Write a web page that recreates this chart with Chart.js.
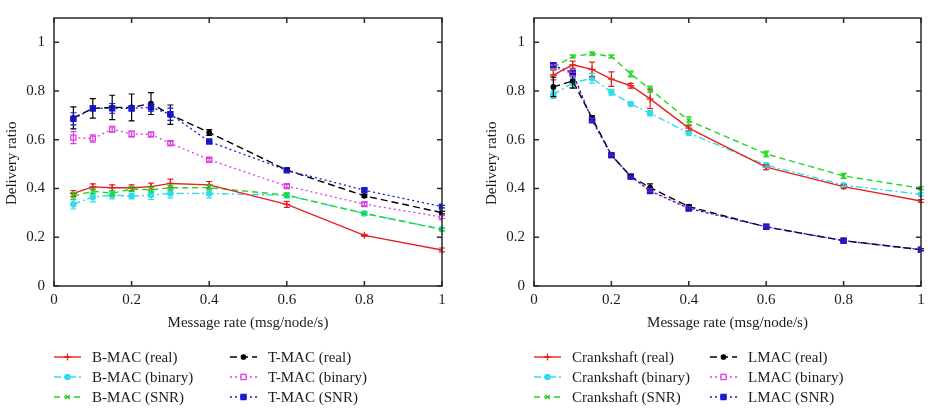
<!DOCTYPE html>
<html>
<head>
<meta charset="utf-8">
<script src="https://cdn.jsdelivr.net/npm/chart.js@4.4.0/dist/chart.umd.min.js"></script>
<style>
  html, body { margin: 0; padding: 0; background: #fff; }
  #wrap { position: relative; width: 937px; height: 408px; overflow: hidden; }
  canvas { position: absolute; top: 0; }
  #left { left: 0; }
  #right { left: 470px; }
</style>
</head>
<body>
<div id="wrap">
  <canvas id="left" width="470" height="408"></canvas>
  <canvas id="right" width="467" height="408"></canvas>
</div>
<script>
// --- data ---
const rates = [0.05, 0.1, 0.15, 0.2, 0.25, 0.3, 0.4, 0.6, 0.8, 1];
const xTicks = [0, 0.2, 0.4, 0.6, 0.8, 1];
const yTicks = [0, 0.2, 0.4, 0.6, 0.8, 1];

// left panel
const leftNames = ['B-MAC (real)', 'B-MAC (binary)', 'B-MAC (SNR)', 'T-MAC (real)', 'T-MAC (binary)', 'T-MAC (SNR)'];
const bmacReal   = [0.380, 0.407, 0.403, 0.403, 0.408, 0.421, 0.415, 0.335, 0.208, 0.148];
const bmacBinary = [0.336, 0.365, 0.373, 0.369, 0.373, 0.380, 0.380, 0.372, 0.298, 0.233];
const bmacSnr    = [0.369, 0.389, 0.381, 0.398, 0.395, 0.403, 0.404, 0.373, 0.298, 0.232];
const tmacReal   = [0.690, 0.729, 0.733, 0.733, 0.749, 0.703, 0.630, 0.476, 0.370, 0.301];
const tmacBinary = [0.609, 0.605, 0.643, 0.624, 0.622, 0.586, 0.518, 0.410, 0.336, 0.283];
const tmacSnr    = [0.686, 0.729, 0.729, 0.729, 0.733, 0.705, 0.593, 0.475, 0.393, 0.326];
// half-width of the error bars
const bmacRealErr   = [0.012, 0.012, 0.012, 0.012, 0.014, 0.018, 0.014, 0.012, 0.004, 0.008];
const bmacBinaryErr = [0.020, 0.020, 0.015, 0.012, 0.018, 0.018, 0.018, 0.010, 0.008, 0.008];
const bmacSnrErr    = [0.015, 0.010, 0.010, 0.010, 0.010, 0.010, 0.010, 0.008, 0.005, 0.005];
const tmacRealErr   = [0.045, 0.040, 0.050, 0.055, 0.045, 0.040, 0.012, 0.005, 0.005, 0.005];
const tmacBinaryErr = [0.025, 0.015, 0.012, 0.012, 0.008, 0.008, 0.006, 0.006, 0.006, 0.006];
const tmacSnrErr    = [0.025, 0.010, 0.020, 0.010, 0.015, 0.025, 0.005, 0.005, 0.005, 0.005];

// right panel
const rightNames = ['Crankshaft (real)', 'Crankshaft (binary)', 'Crankshaft (SNR)', 'LMAC (real)', 'LMAC (binary)', 'LMAC (SNR)'];
const crankReal   = [0.866, 0.908, 0.889, 0.849, 0.822, 0.768, 0.648, 0.488, 0.408, 0.349];
const crankBinary = [0.785, 0.834, 0.853, 0.795, 0.747, 0.709, 0.628, 0.496, 0.414, 0.376];
const crankSnr    = [0.897, 0.942, 0.954, 0.942, 0.870, 0.808, 0.679, 0.542, 0.452, 0.401];
const lmacReal    = [0.817, 0.842, 0.690, 0.537, 0.450, 0.404, 0.326, 0.242, 0.186, 0.149];
const lmacBinary  = [0.900, 0.870, 0.682, 0.537, 0.449, 0.392, 0.320, 0.243, 0.186, 0.149];
const lmacSnr     = [0.906, 0.876, 0.680, 0.537, 0.449, 0.390, 0.318, 0.243, 0.186, 0.149];
const crankRealErr   = [0.020, 0.015, 0.030, 0.030, 0.010, 0.040, 0.010, 0.010, 0.008, 0.006];
const crankBinaryErr = [0.015, 0.020, 0.020, 0.012, 0.006, 0.010, 0.008, 0.008, 0.006, 0.006];
const crankSnrErr    = [0.010, 0.006, 0.006, 0.006, 0.012, 0.012, 0.015, 0.012, 0.010, 0.006];
const lmacRealErr    = [0.040, 0.030, 0.008, 0.006, 0.006, 0.015, 0.008, 0.004, 0.004, 0.004];
const lmacBinaryErr  = [0.008, 0.008, 0.006, 0.004, 0.004, 0.006, 0.004, 0.004, 0.004, 0.004];
const lmacSnrErr     = [0.008, 0.008, 0.006, 0.004, 0.004, 0.006, 0.004, 0.004, 0.004, 0.004];

// --- styles (same six line styles in both panels) ---
const FONT = '"Liberation Serif", "DejaVu Serif", serif';
const TEXT = '#1c1c1c';
// order: lower is drawn on top (red first, then blue over black, magenta at the back)
const seriesStyles = [
  { color: '#e3231f', dash: [],           point: 'cross',    radius: 3.5, width: 1.4, fill: '#e3231f', order: 0 },
  { color: '#30dcec', dash: [7, 3, 2, 3], point: 'circle',   radius: 2.6, width: 1.4, fill: '#30dcec', order: 4 },
  { color: '#1fd71f', dash: [6, 4],       point: 'crossRot', radius: 3,   width: 1.4, fill: '#1fd71f', order: 3 },
  { color: '#000000', dash: [7, 4],       point: 'circle',   radius: 2.2, width: 1.4, fill: '#000000', order: 2 },
  { color: '#e03ee0', dash: [2, 3],       point: 'rect',     radius: 3.6, width: 1.3, fill: '#ffffff', order: 5 },
  { color: '#1818cc', dash: [2, 3],       point: 'rect',     radius: 3.6, width: 1.3, fill: '#1818cc', order: 1 }
];

// error bars, gnuplot frame with inward ticks on all sides, and the 2-column legend
const gnuplotPlugin = {
  id: 'gnuplot',
  afterDatasetsDraw(chart) {
    const ctx = chart.ctx;
    const ys = chart.scales.y;
    chart.data.datasets.forEach((ds, i) => {
      const meta = chart.getDatasetMeta(i);
      ctx.save();
      ctx.strokeStyle = ds.borderColor;
      ctx.lineWidth = 1.2;
      ctx.setLineDash([]);
      meta.data.forEach((pt, j) => {
        const v = ds.data[j].y, e = ds.errors[j];
        const top = ys.getPixelForValue(v + e);
        const bot = ys.getPixelForValue(v - e);
        ctx.beginPath();
        ctx.moveTo(pt.x, top); ctx.lineTo(pt.x, bot);
        ctx.moveTo(pt.x - 3, top); ctx.lineTo(pt.x + 3, top);
        ctx.moveTo(pt.x - 3, bot); ctx.lineTo(pt.x + 3, bot);
        ctx.stroke();
      });
      ctx.restore();
    });
  },
  afterDraw(chart, args, opts) {
    const ctx = chart.ctx;
    const { left, right, top, bottom } = chart.chartArea;
    const xs = chart.scales.x, ys = chart.scales.y;
    ctx.save();
    ctx.strokeStyle = '#2a2a2a';
    ctx.lineWidth = 1.5;
    ctx.setLineDash([]);
    ctx.strokeRect(left, top, right - left, bottom - top);
    ctx.beginPath();
    xs.ticks.forEach(t => {
      const px = xs.getPixelForValue(t.value);
      ctx.moveTo(px, bottom); ctx.lineTo(px, bottom - 5);
      ctx.moveTo(px, top); ctx.lineTo(px, top + 5);
    });
    ys.ticks.forEach(t => {
      const py = ys.getPixelForValue(t.value);
      ctx.moveTo(left, py); ctx.lineTo(left + 5, py);
      ctx.moveTo(right, py); ctx.lineTo(right - 5, py);
    });
    ctx.stroke();

    // legend: two columns of three, column-major
    ctx.font = '15px ' + FONT;
    ctx.fillStyle = TEXT;
    ctx.textBaseline = 'middle';
    chart.data.datasets.forEach((ds, i) => {
      const col = Math.floor(i / 3), row = i % 3;
      const sx = left + col * opts.colGap;
      const sy = opts.rows[row];
      ctx.save();
      ctx.strokeStyle = ds.borderColor;
      ctx.lineWidth = ds.borderWidth;
      ctx.setLineDash(ds.borderDash);
      ctx.beginPath();
      ctx.moveTo(sx, sy); ctx.lineTo(sx + opts.sample, sy);
      ctx.stroke();
      ctx.setLineDash([]);
      ctx.fillStyle = ds.pointBackgroundColor;
      ctx.strokeStyle = ds.borderColor;
      ctx.lineWidth = 1.3;
      Chart.helpers.drawPoint(ctx, { pointStyle: ds.pointStyle, radius: ds.pointRadius, borderWidth: 1.3, rotation: 0 }, sx + opts.sample / 2, sy);
      ctx.restore();
      ctx.fillText(ds.label, sx + opts.textOffset, sy + 1);
    });
    ctx.restore();
  }
};

function makeChart(canvasId, names, series, errors, pad) {
  const datasets = names.map((name, i) => {
    const s = seriesStyles[i];
    return {
      label: name,
      data: rates.map((r, j) => ({ x: r, y: series[i][j] })),
      errors: errors[i],
      order: s.order,
      borderColor: s.color,
      backgroundColor: s.color,
      borderWidth: s.width,
      borderDash: s.dash,
      pointStyle: s.point,
      pointRadius: s.radius,
      pointBorderWidth: 1.3,
      pointBackgroundColor: s.fill,
      pointBorderColor: s.color,
      tension: 0,
      fill: false
    };
  });

  return new Chart(document.getElementById(canvasId), {
    type: 'line',
    data: { datasets },
    plugins: [gnuplotPlugin],
    options: {
      responsive: false,
      animation: false,
      events: [],
      layout: { padding: { top: 6, left: pad.left, right: pad.right, bottom: 72 } },
      plugins: {
        legend: { display: false },
        tooltip: { enabled: false },
        gnuplot: { colGap: 176, sample: 27, textOffset: 38, rows: [357, 377, 397] }
      },
      scales: {
        x: {
          type: 'linear',
          min: 0, max: 1,
          afterBuildTicks: scale => { scale.ticks = xTicks.map(v => ({ value: v })); },
          afterFit: scale => { scale.height = 50; },
          grid: { display: false, drawTicks: false },
          border: { display: false },
          ticks: { padding: 5, color: TEXT, font: { family: FONT, size: 15 }, callback: v => String(v), maxRotation: 0 },
          title: { display: true, text: 'Message rate (msg/node/s)', color: TEXT, font: { family: FONT, size: 15 }, padding: { top: 0, bottom: 4 } }
        },
        y: {
          min: 0, max: 1.1,
          afterBuildTicks: scale => { scale.ticks = yTicks.map(v => ({ value: v })); },
          afterFit: scale => { scale.width = 54; },
          grid: { display: false, drawTicks: false },
          border: { display: false },
          ticks: { padding: 9, color: TEXT, font: { family: FONT, size: 15 }, callback: v => String(v) },
          title: { display: true, text: 'Delivery ratio      ', color: TEXT, font: { family: FONT, size: 15 }, padding: { top: 3, bottom: 0 } }
        }
      }
    }
  });
}

makeChart('left', leftNames,
  [bmacReal, bmacBinary, bmacSnr, tmacReal, tmacBinary, tmacSnr],
  [bmacRealErr, bmacBinaryErr, bmacSnrErr, tmacRealErr, tmacBinaryErr, tmacSnrErr],
  { left: 0, right: 28 });

makeChart('right', rightNames,
  [crankReal, crankBinary, crankSnr, lmacReal, lmacBinary, lmacSnr],
  [crankRealErr, crankBinaryErr, crankSnrErr, lmacRealErr, lmacBinaryErr, lmacSnrErr],
  { left: 10, right: 16 });
</script>
</body>
</html>
